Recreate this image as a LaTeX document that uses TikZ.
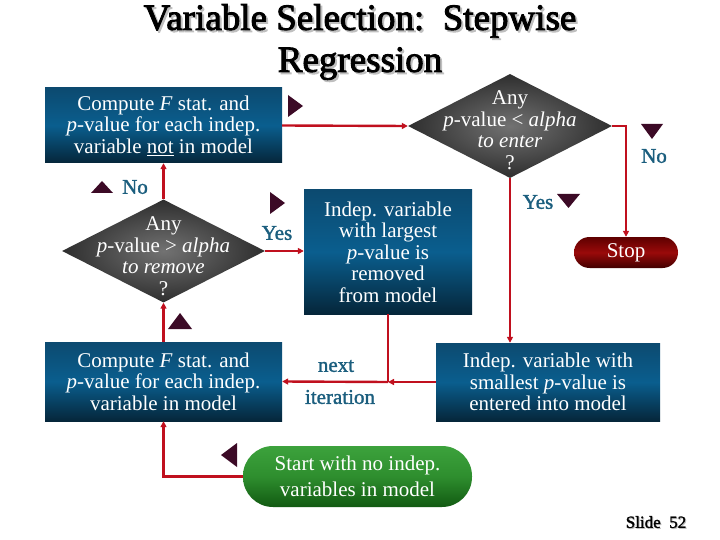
\documentclass[tikz,border=0pt]{standalone}
\usepackage{fontspec}
\setmainfont{Liberation Serif}
\newfontfamily\heavyserif{Liberation Serif}[FakeBold=2.5]
\newfontfamily\midserif{Liberation Serif}[FakeBold=1.5]
\usetikzlibrary{shapes.geometric,arrows.meta,calc}
\definecolor{bluetop}{HTML}{0C4A70}
\definecolor{bluemid}{HTML}{0A5E8E}
\definecolor{bluebot}{HTML}{05263A}
\definecolor{graymid}{HTML}{727272}
\definecolor{grayout}{HTML}{2E2E2E}
\definecolor{redtop}{HTML}{5E0000}
\definecolor{redmid}{HTML}{9A0A0A}
\definecolor{redbot}{HTML}{420000}
\definecolor{greentop}{HTML}{3CA23C}
\definecolor{greenmid}{HTML}{2E8E2E}
\definecolor{greenbot}{HTML}{125A12}
\definecolor{lblcol}{HTML}{1B5E7E}
\definecolor{linecol}{HTML}{C0101E}
\definecolor{markcol}{HTML}{3C0A26}
\begin{document}
\begin{tikzpicture}[x=1pt,y=-1pt,
  boxtext/.style={text=white, align=center, font=\fontsize{21}{21.5}\selectfont},
  bluebox/.style={boxtext, rectangle, inner sep=0pt, top color=bluetop, bottom color=bluebot, middle color=bluemid},
  decision/.style={diamond, inner sep=0pt, shading=radial, inner color=graymid, outer color=grayout},
  dtext/.style={boxtext, inner sep=0pt},
  stoppill/.style={boxtext, rectangle, inner sep=0pt, rounded corners=15.5pt, top color=redtop, bottom color=redbot, middle color=redmid},
  startpill/.style={boxtext, rectangle, inner sep=0pt, rounded corners=30pt, top color=greentop, bottom color=greenbot, middle color=greenmid, font=\fontsize{21}{26}\selectfont},
  lbl/.style={text=lblcol, font=\midserif\fontsize{21}{22}\selectfont, inner sep=0pt},
  conn/.style={draw=linecol, line width=2.4pt},
  arr/.style={conn, -{Triangle[length=6pt,width=6pt]}},
  marker/.style={fill=markcol},
  titlefont/.style={align=center, inner sep=0pt, font=\heavyserif\fontsize{37}{42}\selectfont},
  slidefont/.style={inner sep=0pt, font=\midserif\fontsize{17}{19}\selectfont}
]
\useasboundingbox (0,0) rectangle (720,540);

% title
\node[titlefont, text=black!25] (titleshadow) at (362,44) {Variable Selection:~~Stepwise\\Regression};
\node[titlefont, text=black] (title) at (360,42) {Variable Selection:~~Stepwise\\Regression};

% boxes
\node[bluebox, minimum width=237, minimum height=75] (b1) at (163.5,125.5) {Compute \textit{F} stat. and\\\textit{p}-value for each indep.\\variable \underline{not} in model};
\node[bluebox, minimum width=168, minimum height=124] (b2) at (388,252) {Indep. variable\\with largest\\\textit{p}-value is\\removed\\from model};
\node[bluebox, minimum width=237, minimum height=79] (b3) at (163.5,381.5) {Compute \textit{F} stat. and\\\textit{p}-value for each indep.\\variable in model};
\node[bluebox, minimum width=224, minimum height=78] (b4) at (548,382) {Indep. variable with\\smallest \textit{p}-value is\\entered into model};

\node[decision, minimum width=204, minimum height=104,
  label={[dtext, yshift=-4pt]center:{Any\\\textit{p}-value < \textit{alpha}\\\textit{to enter}\\?}}] (d1) at (510,126) {};
\node[decision, minimum width=203, minimum height=103,
  label={[dtext, yshift=-5pt]center:{Any\\\textit{p}-value > \textit{alpha}\\\textit{to remove}\\?}}] (d2) at (163.5,251) {};

\node[stoppill, minimum width=104, minimum height=31] (stop) at (626,252.5) {Stop};
\node[startpill, minimum width=229, minimum height=61] (start) at (357.5,476.5) {Start with no indep.\\variables in model};

% labels
\node[lbl] (no1) at (654,156) {No};
\node[lbl] (no2) at (135,187) {No};
\node[lbl] (yes1) at (538,202) {Yes};
\node[lbl] (yes2) at (277,233) {Yes};
\node[lbl] (next) at (336,366) {next};
\node[lbl] (iter) at (340,397) {iteration};
\node[slidefont, text=black!25] (slideshadow) at (657,523) {Slide\hspace{0.5em}52};
\node[slidefont, text=black] (slide) at (656,522) {Slide\hspace{0.5em}52};

% connectors
\coordinate (J) at (b2.south |- b4.west);
\draw[arr] (b1.east) -- (d1.west);
\draw[arr] (d1.east) -| (stop.north);
\draw[arr] (d1.south) -- (d1.south |- b4.north);
\draw[arr] (b4.west) -- (J);
\draw[conn] (b2.south) -- (J);
\draw[arr] (J) -- (b3.east);
\draw[arr] (b3.north) -- (b3.north |- d2.south);
\draw[arr] (d2.north) -- (d2.north |- b1.south);
\draw[arr] (d2.east) -- (d2.east -| b2.west);
\draw[arr] (start.west) -| (b3.south);

% markers
\fill[marker] (288,95) -- (288,117) -- (303,106) -- cycle;
\fill[marker] (641,124) -- (663,124) -- (652,139) -- cycle;
\fill[marker] (91,193) -- (113,193) -- (102,181) -- cycle;
\fill[marker] (270,192) -- (270,214) -- (285,203) -- cycle;
\fill[marker] (557,194) -- (580,194) -- (568.5,208) -- cycle;
\fill[marker] (168,329) -- (192,329) -- (180,313) -- cycle;
\fill[marker] (237,443) -- (237,467) -- (221,455) -- cycle;
\end{tikzpicture}
\end{document}
